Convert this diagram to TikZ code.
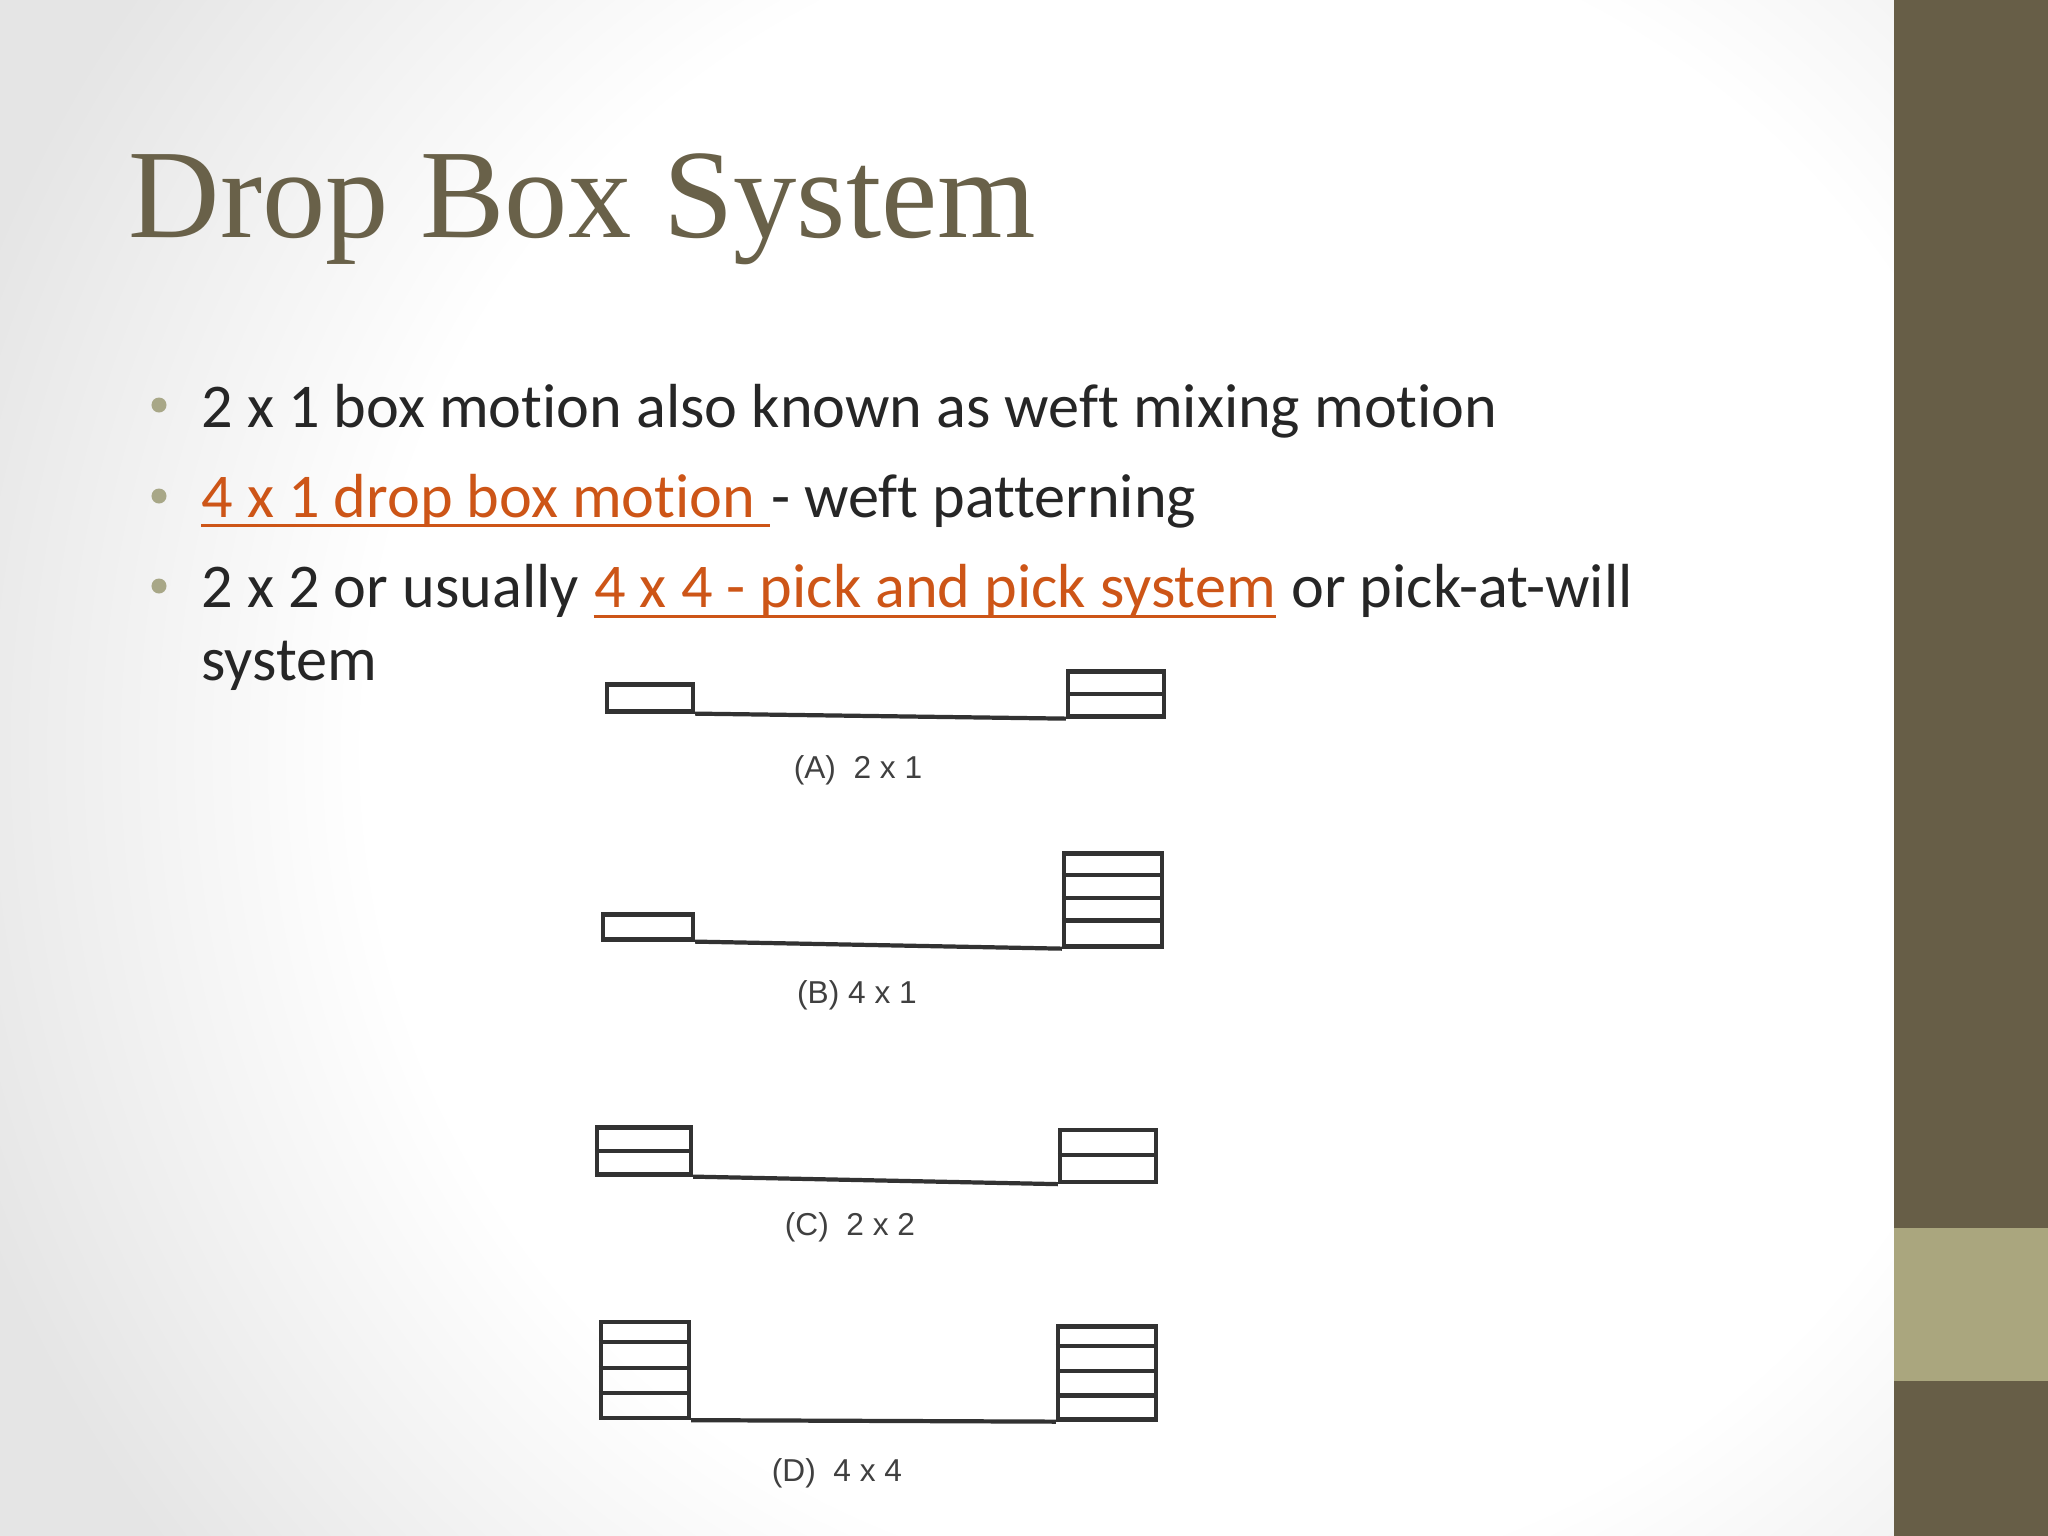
\documentclass[tikz,border=0pt]{standalone}
\usepackage{fontspec}
\setmainfont{Carlito}[Ligatures=NoCommon]
\newfontfamily\titlefont{Liberation Serif}
\newfontfamily\labelfont{Liberation Sans}
\usetikzlibrary{calc}

\definecolor{titlecol}{RGB}{105,97,73}
\definecolor{barcol}{RGB}{103,94,71}
\definecolor{bandcol}{RGB}{170,166,126}
\definecolor{bulletcol}{RGB}{168,167,135}
\definecolor{linkcol}{RGB}{205,85,23}
\definecolor{textcol}{RGB}{38,38,38}
\definecolor{linegray}{RGB}{50,50,50}

\pgfdeclareradialshading{slidefundo}{\pgfpoint{0bp}{0bp}}{color(0bp)=(white); color(16bp)=(white); color(25bp)=(black!10); color(50bp)=(black!12)}

\begin{document}
\begin{tikzpicture}[x=0.01cm, y=-0.01cm,
	box_style/.style={rectangle, draw=linegray, line width=1.2pt, inner sep=0pt},
	race_style/.style={draw=linegray, line width=1.2pt},
	bullet_style/.style={circle, fill=bulletcol, inner sep=0pt, minimum size=0.15cm},
	texto/.style={anchor=base west, inner sep=0pt, text=textcol, font=\fontsize{17.7}{21}\selectfont},
	link/.style={texto, text=linkcol},
	link_line/.style={draw=linkcol, line width=0.85pt},
	legenda/.style={inner sep=0pt, text=black!75, font=\labelfont\fontsize{9}{11}\selectfont},
	]

\useasboundingbox (0,0) rectangle (2048,1536);

% slide background
\fill[white] (0,0) rectangle (1894,1536);
\begin{scope}
	\clip (0,0) rectangle (1894,1536);
	\shade[shading=slidefundo] (-100,-550) rectangle (2500,2050);
\end{scope}
\fill[barcol] (1894,0) rectangle (2048,1536);
\fill[bandcol] (1894,1228) rectangle (2048,1381);

\node[anchor=base west, inner sep=0pt, text=titlecol, font=\titlefont\fontsize{36}{40}\selectfont] (titulo) at (128,237) {Drop Box System};

% bullets
\node[bullet_style] (pontoum) at (159,405) {};
\node[bullet_style] (pontodois) at (159,496) {};
\node[bullet_style] (pontotres) at (159,586) {};

\node[texto] (linhaum) at (201,427) {2 x 1 box motion also known as weft mixing motion};

\node[link] (linkdois) at (201,517) {4 x 1 drop box motion\ \null};
\node[texto] (linhadois) at (linkdois.base east) {- weft patterning};
\draw[link_line] ($(linkdois.base west)+(0,8)$) -- ($(linkdois.base east)+(0,8)$);

\node[texto] (linhatres) at (201,607) {2 x 2 or usually\ \null};
\node[link] (linktres) at (linhatres.base east) {4 x 4 - pick and pick system};
\node[texto] (restotres) at (linktres.base east) {\ or pick-at-will};
\draw[link_line] ($(linktres.base west)+(0,9)$) -- ($(linktres.base east)+(0,9)$);
\node[texto] (linhaquatro) at (201,680) {system};

% (A) 2 x 1
\node[box_style, minimum width=0.86cm, minimum height=0.27cm] (leftboxa) at (650,698) {};
\node[box_style, minimum width=0.96cm, minimum height=0.45cm] (rightboxa) at (1116,694) {};
\draw[race_style] (rightboxa.west) -- (rightboxa.east);
\draw[race_style] (leftboxa.south east) -- (rightboxa.south west);
\node[legenda] (legendaa) at (858,770) {(A)\ \ 2 x 1};

% (B) 4 x 1
\node[box_style, minimum width=0.90cm, minimum height=0.25cm] (leftboxb) at (648,927) {};
\node[box_style, minimum width=0.98cm, minimum height=0.93cm] (rightboxb) at (1113,900) {};
\foreach \k in {0.24,0.48,0.71}
	\draw[race_style] ($(rightboxb.north west)!\k!(rightboxb.south west)$) -- ($(rightboxb.north east)!\k!(rightboxb.south east)$);
\draw[race_style] (leftboxb.south east) -- (rightboxb.south west);
\node[legenda] (legendab) at (857,995) {(B) 4 x 1};

% (C) 2 x 2
\node[box_style, minimum width=0.94cm, minimum height=0.47cm] (leftboxc) at (644,1151) {};
\node[box_style, minimum width=0.96cm, minimum height=0.52cm] (rightboxc) at (1108,1156) {};
\draw[race_style] (leftboxc.west) -- (leftboxc.east);
\draw[race_style] ($(rightboxc.north west)!0.48!(rightboxc.south west)$) -- ($(rightboxc.north east)!0.48!(rightboxc.south east)$);
\draw[race_style] (leftboxc.south east) -- (rightboxc.south west);
\node[legenda] (legendac) at (850,1227) {(C)\ \ 2 x 2};

% (D) 4 x 4
\node[box_style, minimum width=0.88cm, minimum height=0.96cm] (leftboxd) at (645,1370) {};
\node[box_style, minimum width=0.98cm, minimum height=0.93cm] (rightboxd) at (1107,1373) {};
\foreach \k in {0.22,0.48,0.73}{
	\draw[race_style] ($(leftboxd.north west)!\k!(leftboxd.south west)$) -- ($(leftboxd.north east)!\k!(leftboxd.south east)$);
	\draw[race_style] ($(rightboxd.north west)!\k!(rightboxd.south west)$) -- ($(rightboxd.north east)!\k!(rightboxd.south east)$);
}
\draw[race_style] (leftboxd.south east) -- (rightboxd.south west);
\node[legenda] (legendad) at (837,1473) {(D)\ \ 4 x 4};

\end{tikzpicture}
\end{document}
